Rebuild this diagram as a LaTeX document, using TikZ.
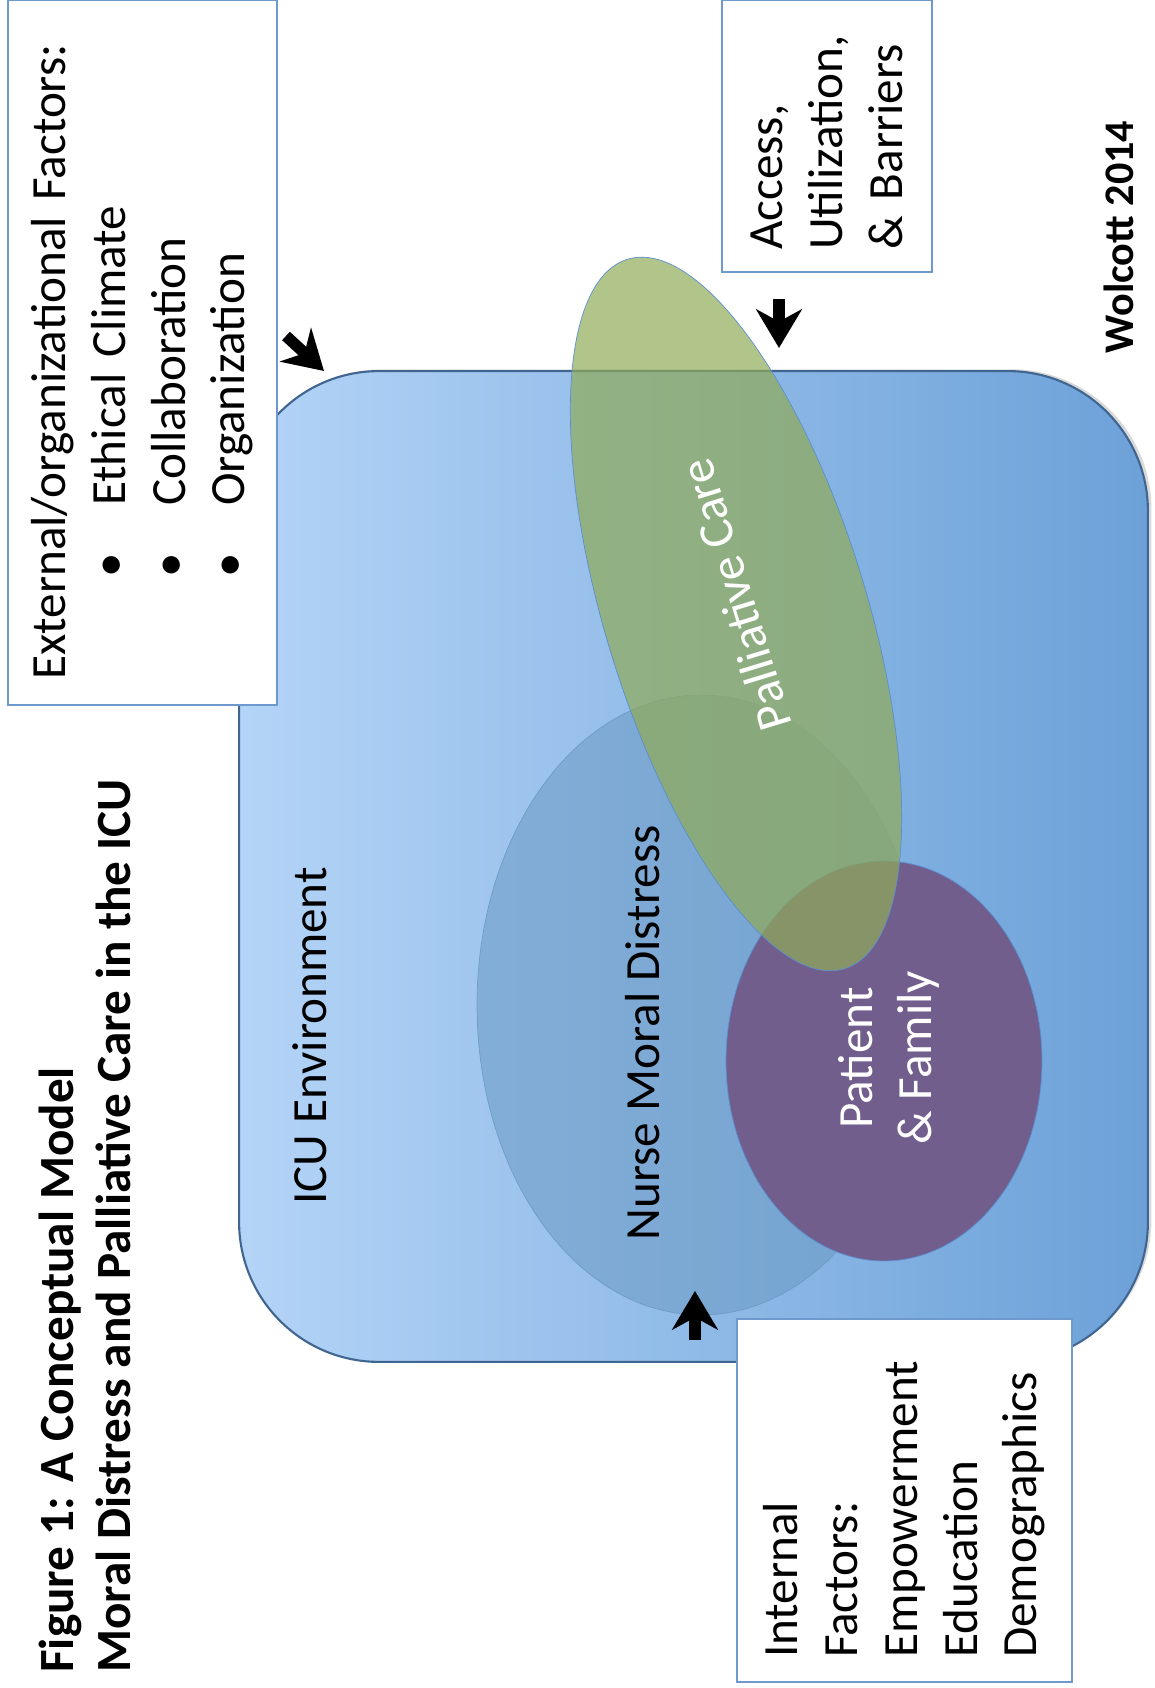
\documentclass[tikz,border=0pt]{standalone}
\usepackage{fontspec}
\setmainfont{Carlito}
\usetikzlibrary{shapes.geometric,arrows.meta,shadows}

\definecolor{envleft}{HTML}{B4D4F7}
\definecolor{envright}{HTML}{6CA1D8}
\definecolor{envline}{HTML}{3F6590}
\definecolor{nursefill}{HTML}{6B9AC4}
\definecolor{nurseline}{HTML}{6E9CC6}
\definecolor{patfill}{HTML}{715E8C}
\definecolor{palfill}{HTML}{90AB58}
\definecolor{ovalline}{HTML}{5A8FD0}
\definecolor{boxline}{HTML}{6E99CC}

\newcommand{\bitem}[1]{\hspace*{2.05cm}\makebox[1.43cm][l]{\textbullet}#1}

\tikzset{
  bigtext/.style={font=\fontsize{28}{34}\selectfont},
  factorbox/.style={draw=boxline, line width=1.4pt, fill=white, rotate=90, align=left, bigtext, inner ysep=0pt},
  bigarrow/.style={line width=6.5pt, -{Stealth[length=22pt,width=26pt,inset=7pt]}},
}

\begin{document}
\begin{tikzpicture}[x=0.02cm, y=0.02cm]
    \useasboundingbox (0,0) rectangle (1155,1688);

    % --- ICU environment (background) ---
    \node[draw=envline, line width=1.2pt, left color=envleft, right color=envright, rounded corners=2.8cm, minimum width=18.18cm, minimum height=19.82cm,
          drop shadow={opacity=0.3, shadow xshift=2pt, shadow yshift=1pt}] (icu) at (693.5,821.5) {};

    % --- Overlapping ovals ---
    \node[ellipse, draw=nurseline, fill=nursefill, fill opacity=0.55, minimum width=8.96cm, minimum height=12.4cm, inner sep=0pt] (nurse) at (701,683) {};
    \node[ellipse, draw=ovalline, fill=patfill, minimum width=6.32cm, minimum height=8cm, inner sep=0pt] (patient) at (884,627) {};
    \node[ellipse, draw=ovalline, fill=palfill, fill opacity=0.7, minimum width=14.84cm, minimum height=5.24cm, inner sep=0pt, rotate=107] (pall) at (736,1074) {};

    % Labels
    \node[bigtext, rotate=90] (icuLabel) at (310,652) {ICU Environment};
    \node[bigtext, rotate=90] (nurseLabel) at (643,655) {Nurse Moral Distress};
    \node[bigtext, rotate=90, align=center, text=white] (patientLabel) at (889,630) {Patient\\ \& Family};
    \node[bigtext, rotate=107, text=white] (pallLabel) at (735,1093) {Palliative Care};

    % --- Factor boxes ---
    \node[factorbox, minimum width=14.1cm, minimum height=5.38cm, text width=13.1cm, inner xsep=0.5cm] (external) at (142.5,1335.5) {External/organizational Factors:\\ \bitem{Ethical Climate}\\ \bitem{Collaboration}\\ \bitem{Organization}};
    \node[factorbox, minimum width=5.44cm, minimum height=4.2cm, text width=4.56cm, inner xsep=0.44cm] (access) at (827,1552) {Access,\\ Utilization,\\ \& Barriers};
    \node[factorbox, minimum width=7.26cm, minimum height=6.7cm, text width=6.3cm, inner xsep=0.48cm] (internal) at (904.5,187.5) {Internal\\ Factors:\\ Empowerment\\ Education\\ Demographics};

    % Arrows
    \coordinate (extS) at (286,1352);
    \coordinate (extE) at (324,1317);
    \coordinate (accS) at (779,1389);
    \coordinate (accE) at (779,1340);
    \coordinate (intS) at (695,348);
    \coordinate (intE) at (695,397);
    \draw[bigarrow] (extS) -- (extE);
    \draw[bigarrow] (accS) -- (accE);
    \draw[bigarrow] (intS) -- (intE);

    % --- Title and credit ---
    \node[rotate=90, align=left, font=\fontsize{28}{32.5}\selectfont\bfseries] (title) at (85,462) {Figure 1: A Conceptual Model\\ Moral Distress and Palliative Care in the ICU};
    \node[rotate=90, font=\fontsize{24}{28}\selectfont\bfseries] (credit) at (1119,1451) {Wolcott 2014};

\end{tikzpicture}
\end{document}
